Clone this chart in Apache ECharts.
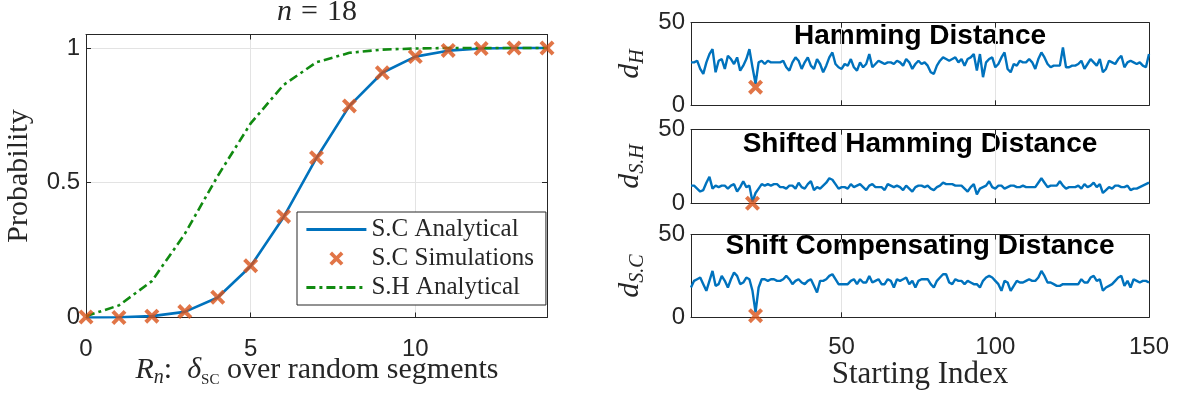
<!DOCTYPE html>
<html><head><meta charset="utf-8">
<script src="https://cdn.jsdelivr.net/npm/echarts@6/dist/echarts.min.js"></script>
<style>html,body{margin:0;padding:0;background:#fff}#c{width:1183px;height:403px}</style>
</head><body><div id="c"></div>
<script>
// ---------- Left chart data ----------
const rnValues      = [0, 1, 2, 3, 4, 5, 6, 7, 8, 9, 10, 11, 12, 13, 14];
const scAnalytical  = [0, 0.001, 0.005, 0.021, 0.074, 0.19, 0.372, 0.592, 0.785, 0.908, 0.968, 0.99, 0.998, 1, 1];
const scSimulations = [0.002, 0, 0.005, 0.022, 0.075, 0.192, 0.375, 0.593, 0.785, 0.908, 0.968, 0.991, 0.998, 1, 1];
const shAnalytical  = [0.005, 0.045, 0.135, 0.31, 0.525, 0.72, 0.863, 0.947, 0.982, 0.994, 0.998, 1, 1, 1, 1];
const leftXTicks = [0, 5, 10];
const leftYTicks = [0, 0.5, 1];

// ---------- Right chart data (starting index 1..150) ----------
const dH = [26,26,27,22,19,26,31,34,20,27,28,22,30,28,25,29,21,24,28,34,23,13,26,27,25,
            27,26,26,26,26,27,23,21,26,29,27,22,26,29,24,22,28,25,20,24,29,32,25,23,22,
            25,24,28,23,21,26,23,25,31,23,25,27,26,25,26,26,25,27,26,24,28,26,22,25,27,
            25,26,24,20,19,24,27,29,28,27,28,29,26,28,24,28,29,31,21,31,17,26,28,29,23,
            25,29,32,22,20,25,24,27,26,26,28,26,22,28,32,29,25,23,24,24,24,35,23,23,24,
            24,25,27,22,25,28,26,24,28,20,22,27,26,25,28,30,23,26,27,26,25,26,24,23,31];
const dSH = [12,12,10,8,9,14,18,10,12,11,12,12,10,12,13,8,11,15,11,12,1,7,10,13,12,
             13,12,13,13,11,11,10,12,12,10,14,11,10,13,15,9,11,10,12,14,17,16,13,10,11,
             11,10,13,11,12,13,11,9,12,13,11,11,11,9,13,12,11,12,11,9,12,10,8,11,12,
             12,11,12,10,9,11,12,14,13,13,13,12,12,12,10,8,11,13,6,10,11,12,15,11,10,
             12,12,10,11,12,12,11,11,12,11,11,11,11,14,17,14,11,12,12,12,15,12,10,11,11,
             11,12,10,13,11,12,14,11,13,7,9,11,10,12,12,11,11,12,9,10,10,11,12,13,14];
const dSC = [18,22,23,24,20,16,22,28,19,20,25,22,18,23,27,25,20,21,24,23,16,3,18,23,23,
             22,23,23,22,22,23,25,23,20,22,23,21,20,22,23,19,15,22,22,23,25,26,23,20,20,
             20,20,22,23,20,23,21,21,25,21,22,23,20,20,23,22,18,23,22,23,24,20,22,18,22,
             23,23,23,20,18,22,24,26,26,21,20,23,22,22,20,22,21,20,20,18,22,24,25,24,22,
             20,16,22,21,16,19,22,21,21,22,23,22,22,24,28,25,21,21,20,19,19,20,20,20,20,
             20,20,23,21,21,24,25,22,23,16,18,19,20,22,24,25,19,22,18,23,22,21,22,22,21];
const minIndex  = [22, 21, 22];
const minValue  = [11, 0, 1];
const rightXTicks = [50, 100, 150];
const rightYTicks = [0, 50];
const panelTitles = ['Hamming Distance', 'Shifted Hamming Distance', 'Shift Compensating Distance'];
const panelYNames = ['{i|d}{s|H}', '{i|d}{s|S.H}', '{i|d}{s|S.C}'];
const seriesNames = ['S.C Analytical', 'S.C Simulations', 'S.H Analytical'];

// ---------- style ----------
const AX = '#262626', GRIDC = '#e3e3e3';
const SANS = '"Liberation Sans", Arial, sans-serif';
const SERIF = '"Liberation Serif", "Times New Roman", serif';
const BLUE = '#0072BD', ORANGE = '#D95319', GREEN = '#118a11';
const XMARK = 'path://M3,0 L8,5 L13,0 L16,3 L11,8 L16,13 L13,16 L8,11 L3,16 L0,13 L5,8 L0,3 Z';

const pair = (xs, ys) => xs.map((x, i) => [x, ys[i]]);
const idx = dH.map((_, i) => i + 1);

const grids = [
  {left: 86,  top: 34.5,  width: 461, height: 283},
  {left: 691, top: 22.7,  width: 458, height: 82.6},
  {left: 691, top: 129.7, width: 458, height: 73.6},
  {left: 691, top: 234.5, width: 458, height: 82.8}
];

function axisCommon(o) {
  return Object.assign({
    type: 'value',
    axisLine: {show: true, onZero: false, lineStyle: {color: AX, width: 1}},
    axisTick: {show: true, inside: true, length: 5, lineStyle: {color: AX, width: 1}},
    axisLabel: {show: false},
    splitLine: {show: false}
  }, o);
}
const lblStyle = {color: AX, fontFamily: SANS, fontSize: 24};

const xAxes = [], yAxes = [];
// left chart
xAxes.push(axisCommon({gridIndex: 0, position: 'bottom', min: 0, max: 14, interval: 5,
  axisLabel: Object.assign({show: true, margin: 20, showMaxLabel: false}, lblStyle),
  splitLine: {show: true, lineStyle: {color: GRIDC, width: 1}}}));
xAxes.push(axisCommon({gridIndex: 0, position: 'top', min: 0, max: 14, interval: 5}));
yAxes.push(axisCommon({gridIndex: 0, position: 'left', min: 0, max: 1.05, interval: 0.5,
  axisLabel: Object.assign({show: true, margin: 6, showMaxLabel: false}, lblStyle),
  splitLine: {show: true, lineStyle: {color: GRIDC, width: 1}}}));
yAxes.push(axisCommon({gridIndex: 0, position: 'right', min: 0, max: 1.05, interval: 0.5}));
// right panels
for (let p = 1; p <= 3; p++) {
  const last = p === 3;
  xAxes.push(axisCommon({gridIndex: p, position: 'bottom', min: 1, max: 150,
    axisTick: {show: true, inside: true, length: 5, customValues: rightXTicks, lineStyle: {color: AX}},
    axisLabel: Object.assign({show: last, margin: 18, customValues: rightXTicks}, lblStyle),
    splitLine: {show: true, lineStyle: {color: GRIDC, width: 1}}}));
  xAxes.push(axisCommon({gridIndex: p, position: 'top', min: 1, max: 150,
    axisTick: {show: true, inside: true, length: 5, customValues: rightXTicks, lineStyle: {color: AX}}}));
  yAxes.push(axisCommon({gridIndex: p, position: 'left', min: 0, max: 50, interval: 50,
    axisLabel: Object.assign({show: true, margin: 6}, lblStyle)}));
  yAxes.push(axisCommon({gridIndex: p, position: 'right', min: 0, max: 50, interval: 50}));
}

const series = [
  {name: seriesNames[0], type: 'line', xAxisIndex: 0, yAxisIndex: 0, data: pair(rnValues, scAnalytical),
   symbol: 'none', lineStyle: {color: BLUE, width: 2.6}, itemStyle: {color: BLUE}, z: 3},
  {name: seriesNames[1], type: 'scatter', xAxisIndex: 0, yAxisIndex: 0, data: pair(rnValues, scSimulations),
   symbol: XMARK, symbolSize: 15, itemStyle: {color: ORANGE}, z: 5},
  {name: seriesNames[2], type: 'line', xAxisIndex: 0, yAxisIndex: 0, data: pair(rnValues, shAnalytical),
   symbol: 'none', lineStyle: {color: GREEN, width: 2.6, type: [9, 4, 3, 4]}, itemStyle: {color: GREEN}, z: 4}
];
const panelData = [dH, dSH, dSC];
for (let p = 0; p < 3; p++) {
  series.push({type: 'line', xAxisIndex: 2 + 2 * p, yAxisIndex: 2 + 2 * p, data: pair(idx, panelData[p]),
    symbol: 'none', lineStyle: {color: BLUE, width: 2.4}, z: 3});
  series.push({type: 'scatter', xAxisIndex: 2 + 2 * p, yAxisIndex: 2 + 2 * p,
    data: [[minIndex[p], minValue[p]]], symbol: XMARK, symbolSize: 15, itemStyle: {color: ORANGE}, z: 5});
}

function mk(size, italic, lh, va) {
  const o = {fontFamily: SERIF, fontSize: size, lineHeight: lh};
  if (italic) o.fontStyle = 'italic';
  if (va) o.verticalAlign = va;
  return o;
}
const it = mk(30, true, 36), rm = mk(30, false, 36);
const sub = mk(20, true, 21, 'bottom');
const sc = mk(15, false, 21, 'bottom');

function txt(x, y, text, extra, rot) {
  return {type: 'text', x: x, y: y, rotation: rot || 0, silent: true,
    style: Object.assign({text: text, fill: AX, align: 'center', verticalAlign: 'middle',
      textAlign: 'center', textVerticalAlign: 'middle'}, extra)};
}
const eqStyle = Object.assign(mk(30, false, 36), {padding: [0, 9, 0, 9]});
const graphics = [
  txt(317, 12, '{i|n}{e|=}{r|18}', {rich: {i: mk(30, true, 36), e: eqStyle, r: mk(30, false, 36)}}),
  txt(19, 176, 'Probability', {fontFamily: SERIF, fontSize: 30}, Math.PI / 2),
  txt(317, 370, '{i|R}{s|n}{r|:  }{i|δ}{c|SC}{r| over random segments}', {rich: {i: it, r: rm, s: sub, c: sc}}),
  txt(920, 375, 'Starting Index', {fontFamily: SERIF, fontSize: 31})
];
const ycent = [64, 166.5, 276];
const tcent = [36, 144, 246];
for (let p = 0; p < 3; p++) {
  graphics.push(txt(630, ycent[p], panelYNames[p], {rich: {i: mk(30, true, 36), s: sub}}, Math.PI / 2));
  graphics.push(txt(920, tcent[p], panelTitles[p], {fontFamily: SANS, fontWeight: 'bold', fontSize: 28, fill: '#000'}));
}

const hidden = {color: 'rgba(0,0,0,0)', borderColor: 'rgba(0,0,0,0)', borderWidth: 0};
const chart = echarts.init(document.getElementById('c'), null, {renderer: 'canvas'});
chart.setOption({
  animation: false,
  backgroundColor: '#fff',
  grid: grids,
  xAxis: xAxes,
  yAxis: yAxes,
  series: series,
  legend: {
    data: [
      {name: seriesNames[0], itemStyle: hidden, lineStyle: {width: 2.8}},
      {name: seriesNames[1]},
      {name: seriesNames[2], itemStyle: hidden, lineStyle: {width: 2.8}}
    ],
    orient: 'vertical', left: 297, top: 212,
    itemWidth: 60, itemHeight: 14, itemGap: 4,
    padding: [5, 12, 5, 8],
    borderColor: AX, borderWidth: 1, backgroundColor: '#fff',
    textStyle: {fontFamily: SERIF, fontSize: 25, color: AX, lineHeight: 20},
    selectedMode: false
  },
  graphic: graphics
});
</script></body></html>
